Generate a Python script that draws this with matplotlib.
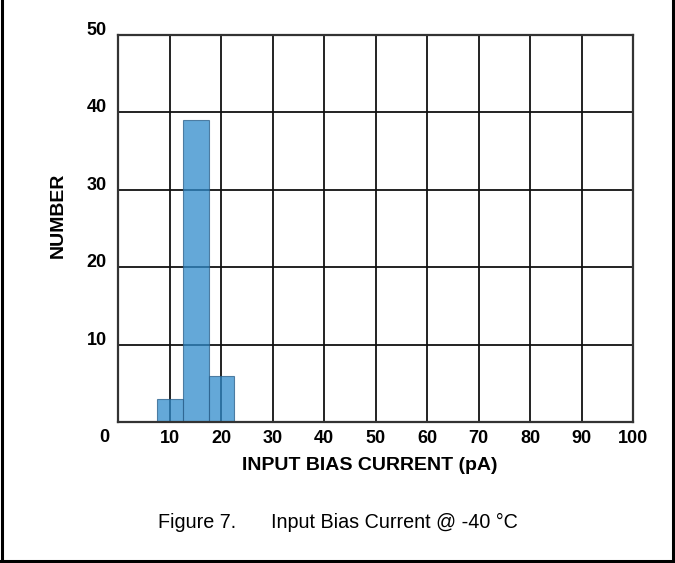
#!/usr/bin/env python3
# -*- coding: utf-8 -*-
"""Histogram of input bias current at -40 C (Figure 7)."""

import matplotlib

matplotlib.use("Agg")

import matplotlib.pyplot as plt
from matplotlib.lines import Line2D
import numpy as np

# histogram data
BIN_EDGES = [7.6, 12.6, 17.6, 22.6]
COUNTS = [3, 39, 6]

X_TICKS = [10, 20, 30, 40, 50, 60, 70, 80, 90, 100]
Y_TICKS = [10, 20, 30, 40, 50]

X_LABEL = "INPUT BIAS CURRENT (pA)"
Y_LABEL = "NUMBER"
CAPTION_NUM = "Figure 7."
CAPTION_TEXT = "Input Bias Current @ -40 \u00b0C"

plt.rcParams["font.family"] = ["Liberation Sans", "DejaVu Sans"]

W, H = 675, 563
fig = plt.figure(figsize=(W / 100, H / 100), dpi=100)
ax = fig.add_axes([118 / W, 1 - 422 / H, (633 - 118) / W, (422 - 35) / H])

edges = np.asarray(BIN_EDGES)
ax.bar(
    edges[:-1],
    COUNTS,
    width=np.diff(edges),
    align="edge",
    color="#308bcb",
    edgecolor="#2b5f8a",
    linewidth=0.8,
    alpha=0.75,
    zorder=1,
)

ax.set_xlim(0, 100)
ax.set_ylim(0, 50)
ax.set_xticks(X_TICKS)
ax.set_yticks(Y_TICKS)
ax.grid(True, color="#111111", linewidth=1.3, zorder=0)
ax.set_axisbelow(True)
for sp in ax.spines.values():
    sp.set_color("#333333")
    sp.set_linewidth(1.6)

ax.tick_params(axis="both", length=0, labelsize=13)
ax.tick_params(axis="x", pad=5.5)
ax.tick_params(axis="y", pad=8)
for lab in ax.get_xticklabels() + ax.get_yticklabels():
    lab.set_fontweight("bold")
for lab in ax.get_yticklabels():
    lab.set_verticalalignment("baseline")

# origin label sits in the row of the x tick labels
fig.text(104 / W, 1 - 437 / H, "0", ha="center", va="center",
         fontsize=13, fontweight="bold")

fig.text(370 / W, 1 - 466 / H, X_LABEL, ha="center", va="center",
         fontsize=14, fontweight="bold")
fig.text(58 / W, 1 - 215 / H, Y_LABEL, ha="center", va="center",
         rotation=90, fontsize=14, fontweight="bold")

fig.text(158 / W, 1 - 522 / H, CAPTION_NUM, ha="left", va="center", fontsize=14.2)
fig.text(271 / W, 1 - 522 / H, CAPTION_TEXT, ha="left", va="center", fontsize=14.2)

# page frame: left, right and bottom edges
for xs, ys in [((1.5, 1.5), (0, 561)), ((672.5, 672.5), (0, 561)), ((0, 675), (561, 561))]:
    fig.add_artist(Line2D([x / W for x in xs], [1 - y / H for y in ys],
                          transform=fig.transFigure, color="black", linewidth=2.2))

fig.savefig("out.png", dpi=100)
